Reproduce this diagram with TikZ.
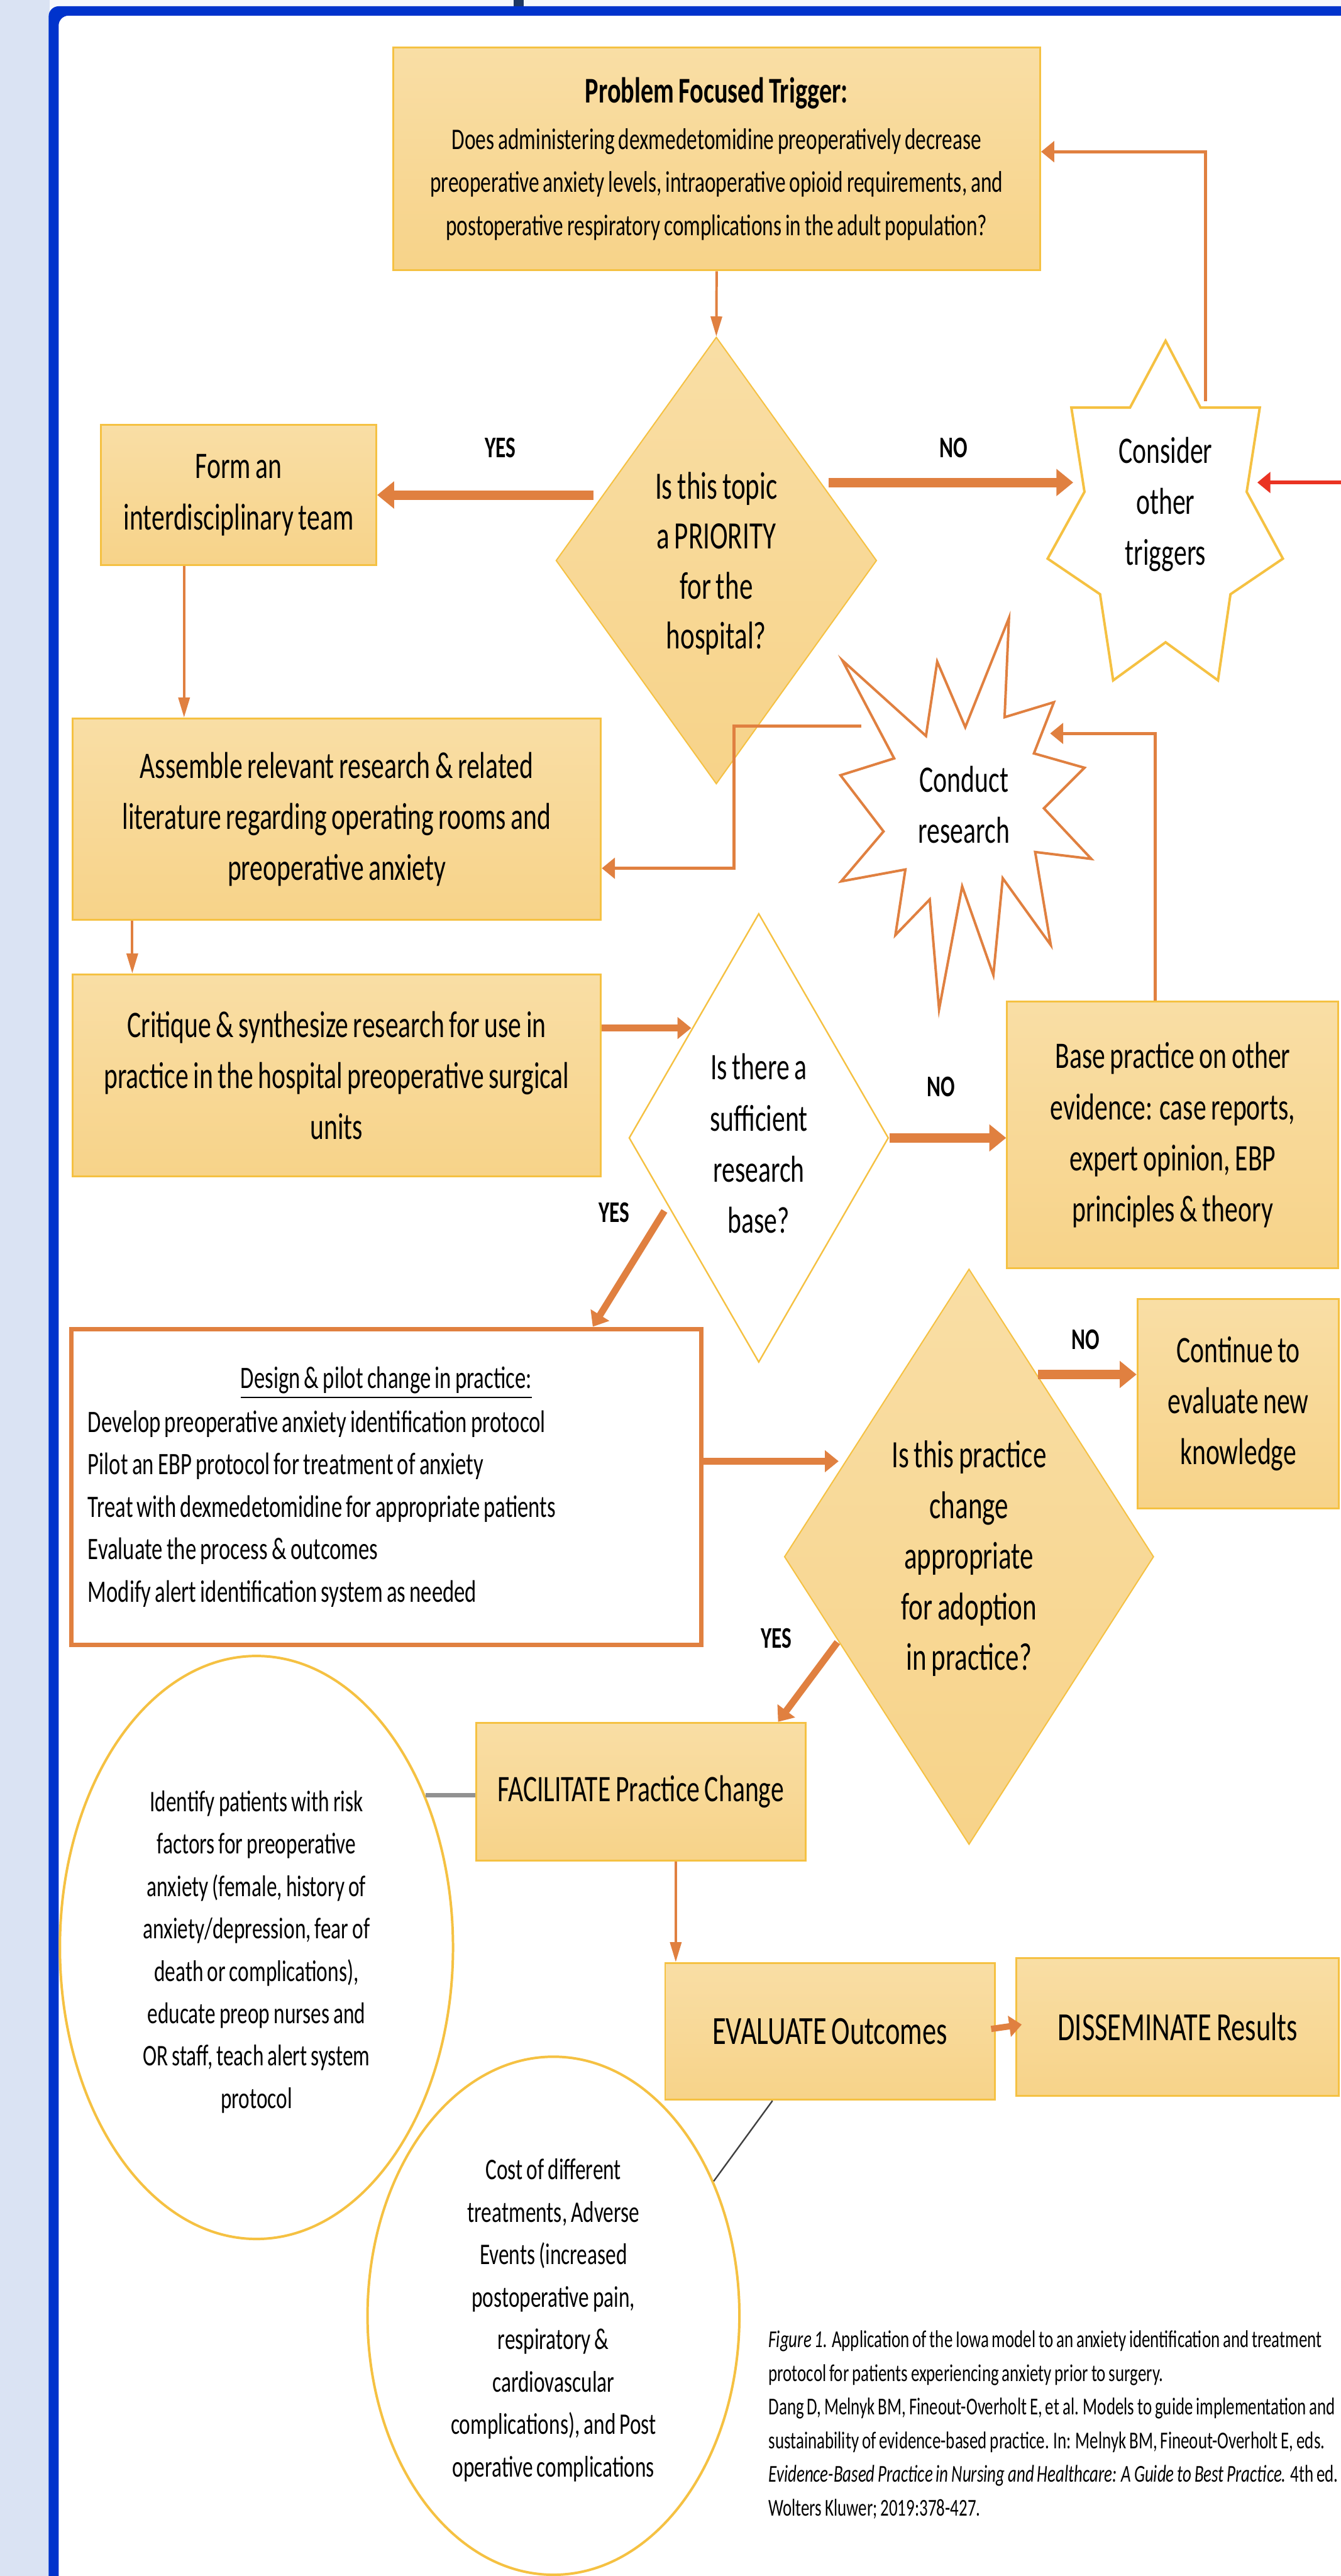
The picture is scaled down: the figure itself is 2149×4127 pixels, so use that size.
\documentclass[tikz,border=0pt]{standalone}
\usepackage{fontspec}
\setmainfont{Carlito}[FakeStretch=0.7,WordSpace=0.8]
\usetikzlibrary{shapes.geometric,arrows.meta,calc}
\definecolor{ytop}{RGB}{249,222,165}
\definecolor{ybot}{RGB}{247,211,137}
\definecolor{gold}{RGB}{245,193,66}
\definecolor{orng}{RGB}{224,128,64}
\definecolor{redcol}{RGB}{234,51,35}
\definecolor{frameblue}{RGB}{0,51,204}
\definecolor{stripblue}{RGB}{218,227,243}
\definecolor{toplight}{RGB}{245,247,252}
\definecolor{navy}{RGB}{31,56,100}
\definecolor{graycon}{RGB}{145,145,145}
\definecolor{darkcon}{RGB}{64,64,64}
\tikzset{
 ybox/.style={draw=gold, line width=0.75pt, top color=ytop, bottom color=ybot, inner sep=0pt, align=center},
 bigtxt/.style={font=\fontsize{15}{20.5}\selectfont},
 smalltxt/.style={font=\fontsize{12}{17}\selectfont},
 lbl/.style={font=\bfseries\fontsize{12}{14}\selectfont, inner sep=0pt},
 ydia/.style={diamond, draw=gold, line width=0.5pt, top color=ytop, bottom color=ybot, inner sep=0pt},
 wdia/.style={diamond, draw=gold, line width=0.6pt, fill=white, inner sep=0pt},
 yell/.style={ellipse, draw=gold, line width=1pt, inner sep=0pt},
 thinarr/.style={draw=orng, line width=1pt, -{Triangle[length=8pt,width=4.5pt]}},
 connarr/.style={draw=orng, line width=1.25pt, -{Triangle[length=5.25pt,width=8.25pt]}},
 medarr/.style={draw=orng, line width=2.75pt, -{Triangle[length=5.5pt,width=8.5pt]}},
 thickarr/.style={draw=orng, line width=3.75pt, -{Triangle[length=6.75pt,width=10.5pt]}},
 smallarr/.style={draw=orng, line width=2.5pt, -{Triangle[length=5pt,width=8.25pt]}},
 redarrow/.style={draw=redcol, line width=1.5pt, -{Triangle[length=5.25pt,width=8.25pt]}},
}
\begin{document}
\begin{tikzpicture}[x=0.25pt,y=-0.25pt]
\useasboundingbox (0,0) rectangle (2149,4127);
\fill[white] (0,0) rectangle (2149,4127);
% frame
\fill[stripblue] (0,0) rectangle (80,4127);
\fill[toplight] (80,0) rectangle (2149,12);
\fill[navy] (823,0) rectangle (839,11);
\fill[frameblue, rounded corners=4pt] (78,4160) -- (78,10) -- (2170,10) -- (2170,25) -- (94,25) -- (94,4160) -- cycle;

% boxes
\node[ybox, minimum width=259.25pt, minimum height=89.25pt, font=\fontsize{12}{17.25}\selectfont] (prob) at (1148.5,254.5)
 {{\bfseries\fontsize{14.5}{17.25}\selectfont Problem Focused Trigger:}\\[1.25pt]
  Does administering dexmedetomidine preoperatively decrease\\
  preoperative anxiety levels, intraoperative opioid requirements, and\\
  postoperative respiratory complications in the adult population?};
\node[ybox, bigtxt, minimum width=110.25pt, minimum height=56pt] (form) at (382.5,793) {Form an\\interdisciplinary team};
\node[ybox, bigtxt, minimum width=211.75pt, minimum height=80.75pt] (assem) at (539.5,1312.5)
 {Assemble relevant research \& related\\literature regarding operating rooms and\\preoperative anxiety};
\node[ybox, bigtxt, minimum width=211.75pt, minimum height=81pt] (crit) at (539.5,1723)
 {Critique \& synthesize research for use in\\practice in the hospital preoperative surgical\\units};
\node[ybox, bigtxt, minimum width=132.75pt, minimum height=106.75pt] (base) at (1879.5,1818.5)
 {Base practice on other\\evidence: case reports,\\expert opinion, EBP\\principles \& theory};
\node[draw=orng, line width=1.75pt, fill=white, minimum width=252.5pt, minimum height=126.5pt, inner sep=0pt,
 text width=239pt, align=left, font=\fontsize{12.5}{17}\selectfont] (design) at (619,2382)
 {\spaceskip=0pt \xspaceskip=0pt
  \makebox[\linewidth][c]{\underline{Design \& pilot change in practice:}}\\[0.5pt]
  Develop preoperative anxiety identification protocol\\
  Pilot an EBP protocol for treatment of anxiety\\
  Treat with dexmedetomidine for appropriate patients\\
  Evaluate the process \& outcomes\\
  Modify alert identification system as needed};
\node[ybox, bigtxt, minimum width=80.75pt, minimum height=84pt] (cont) at (1984.5,2249) {Continue to\\evaluate new\\knowledge};
\node[ybox, bigtxt, minimum width=132pt, minimum height=55.25pt] (facil) at (1027,2870.5) {FACILITATE Practice Change};
\node[ybox, font=\fontsize{16}{20}\selectfont, minimum width=132pt, minimum height=54.75pt] (eval) at (1330,3254.5) {EVALUATE Outcomes};
\node[ybox, font=\fontsize{16}{20}\selectfont, minimum width=129.25pt, minimum height=55.25pt] (dissem) at (1887.5,3247.5) {DISSEMINATE Results};

% diamonds
\node[ydia, minimum width=128.5pt, minimum height=179pt] (d1) at (1148,898) {};
\node[align=center, font=\fontsize{15.5}{20}\selectfont] (d1t) at (1148,903) {Is this topic\\a PRIORITY\\for the\\hospital?};
\node[wdia, minimum width=104pt, minimum height=179.75pt] (d2) at (1216,1823) {};
\node[align=center, bigtxt] (d2t) at (1216,1832) {Is there a\\sufficient\\research\\base?};
\node[ydia, minimum width=148pt, minimum height=230.5pt] (d3) at (1553,2494) {};
\node[align=center, font=\fontsize{15.5}{20.25}\selectfont] (d3t) at (1553,2497) {Is this practice\\change\\appropriate\\for adoption\\in practice?};

% seven point star
\draw[draw=gold, line width=1pt, fill=white] (1868,546) -- (1924,653) -- (2019,653) -- (1998,788) -- (2056,895)
 -- (1972,952) -- (1952,1090) -- (1868,1029) -- (1784,1090) -- (1763,952) -- (1679,895) -- (1738,788)
 -- (1717,653) -- (1811,653) -- cycle;
\node[align=center, bigtxt] (cons) at (1868,808) {Consider\\other\\triggers};
% explosion
\draw[draw=orng, line width=1pt, fill=white] (1350,1058) -- (1484,1179) -- (1502,1060) -- (1547,1165) -- (1617,990)
 -- (1610,1149) -- (1689,1125) -- (1657,1207) -- (1738,1230) -- (1673,1295) -- (1749,1376) -- (1659,1365)
 -- (1684,1514) -- (1607,1407) -- (1592,1562) -- (1542,1420) -- (1505,1617) -- (1490,1441) -- (1435,1498)
 -- (1451,1393) -- (1348,1412) -- (1416,1332) -- (1347,1242) -- (1433,1215) -- cycle;
\node[align=center, bigtxt] (cond) at (1545,1289) {Conduct\\research};

% ellipses
\node[yell, minimum width=157.5pt, minimum height=233.5pt] (e1) at (411,3120) {};
\node[align=center, smalltxt] (e1t) at (411,3127) {Identify patients with risk\\factors for preoperative\\anxiety (female, history of\\anxiety/depression, fear of\\death or complications),\\educate preop nurses and\\OR staff, teach alert system\\protocol};
\node[yell, minimum width=149pt, minimum height=207.5pt] (e2) at (887,3710) {};
\node[align=center, smalltxt] (e2t) at (887,3717) {Cost of different\\treatments, Adverse\\Events (increased\\postoperative pain,\\respiratory \&\\cardiovascular\\complications), and Post\\operative complications};

% labels
\node[lbl] (yes1) at (802,717) {YES};
\node[lbl] (no1) at (1528,717) {NO};
\node[lbl] (no2) at (1508,1741) {NO};
\node[lbl] (yes2) at (984,1943) {YES};
\node[lbl] (no3) at (1740,2146) {NO};
\node[lbl] (yes3) at (1244,2625) {YES};

% connection points on drawn shapes
\coordinate (consW) at (1720,773);
\coordinate (consE) at (2015,773);
\coordinate (consN) at (1932,643);
\coordinate (condW) at (1380,1163);
\coordinate (condE) at (1683,1175);
\coordinate (bendA) at (1176,1163);
\coordinate (redsrc) at (2160,773);
\coordinate (y1s) at ($(d1.west)+(61,0)$);
\coordinate (n1s) at ($(d1.east)+(-78,0)$);
\coordinate (fa) at ($(form.south)+(-87.5,0)$);
\coordinate (ac) at ($(assem.south)+(-327.5,0)$);
\coordinate (fe) at ($(facil.south)+(56,0)$);

% connectors
\draw[thinarr] (prob.south) -- (d1.north);
\draw[thickarr] (y1s |- form.east) -- (form.east);
\draw[thickarr] (n1s |- consW) -- (consW);
\draw[connarr] (consN) |- ($(prob.east)+(0,-11.5)$);
\draw[redarrow] (redsrc) -- (consE);
\draw[thinarr] (fa) -- (fa |- assem.north);
\draw[connarr] (condW) -- (bendA) |- ($(assem.east)+(0,78.5)$);
\draw[connarr] ($(base.north)+(-28.5,0)$) |- (condE);
\draw[thinarr] (ac) -- (ac |- crit.north);
\draw[medarr] ($(crit.east)+(0,-76)$) -- ($(d2.west)+(101,-176)$);
\draw[thickarr] (d2.east) -- (d2.east -| base.west);
\draw[medarr] ($(d2.west)+(58,117)$) -- ($(design.north)+(331,0)$);
\draw[medarr] ($(design.east)+(0,-41)$) -- ($(d3.west)+(88,-153)$);
\draw[thickarr] ($(d3.east)+(-187,-292)$) -- ($(cont.west)+(0,-47)$);
\draw[medarr] ($(d3.west)+(86,137)$) -- ($(facil.north)+(220,0)$);
\draw[draw=graycon, line width=1.75pt] (e1.42) -- (e1.42 -| facil.west);
\draw[thinarr] (fe) -- (fe |- eval.north);
\draw[smallarr] ($(eval.east)+(-7,-4)$) -- ($(dissem.west)+(10,-4)$);
\draw[draw=darkcon, line width=0.6pt] ($(eval.south)+(-92,0)$) -- (e2.40);

% caption
\begin{scope}
\clip (0,0) rectangle (2149,4127);
\node[anchor=north west, inner sep=0pt, align=left, font=\fontsize{9.7}{13.5}\selectfont] (cap) at (1231,3733)
 {\textit{Figure 1.} Application of the Iowa model to an anxiety identification and treatment\\
  protocol for patients experiencing anxiety prior to surgery.\\
  Dang D, Melnyk BM, Fineout-Overholt E, et al. Models to guide implementation and\\
  sustainability of evidence-based practice. In: Melnyk BM, Fineout-Overholt E, eds.\\
  \textit{Evidence-Based Practice in Nursing and Healthcare: A Guide to Best Practice.} 4th ed.\\
  Wolters Kluwer; 2019:378-427.};
\end{scope}
\end{tikzpicture}
\end{document}
